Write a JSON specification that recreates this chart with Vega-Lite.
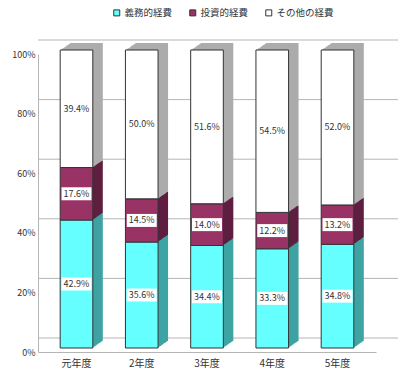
{
  "$schema": "https://vega.github.io/schema/vega-lite/v6.json",
  "autosize": "none",
  "width": 338,
  "height": 298,
  "padding": {"left": 38, "top": 54, "right": 24, "bottom": 27},
  "background": "white",
  "config": {
    "font": "Noto Sans CJK JP",
    "view": {"stroke": null}
  },
  "data": {
    "values": [
      {"year": "元年度", "seg": "義務的経費", "k": 0, "v": 0.429},
      {"year": "元年度", "seg": "投資的経費", "k": 1, "v": 0.176},
      {"year": "元年度", "seg": "その他の経費", "k": 2, "v": 0.394},
      {"year": "2年度", "seg": "義務的経費", "k": 0, "v": 0.356},
      {"year": "2年度", "seg": "投資的経費", "k": 1, "v": 0.145},
      {"year": "2年度", "seg": "その他の経費", "k": 2, "v": 0.500},
      {"year": "3年度", "seg": "義務的経費", "k": 0, "v": 0.344},
      {"year": "3年度", "seg": "投資的経費", "k": 1, "v": 0.140},
      {"year": "3年度", "seg": "その他の経費", "k": 2, "v": 0.516},
      {"year": "4年度", "seg": "義務的経費", "k": 0, "v": 0.333},
      {"year": "4年度", "seg": "投資的経費", "k": 1, "v": 0.122},
      {"year": "4年度", "seg": "その他の経費", "k": 2, "v": 0.545},
      {"year": "5年度", "seg": "義務的経費", "k": 0, "v": 0.348},
      {"year": "5年度", "seg": "投資的経費", "k": 1, "v": 0.132},
      {"year": "5年度", "seg": "その他の経費", "k": 2, "v": 0.520}
    ]
  },
  "layer": [
    {
      "data": {"values": [{"g": 0}, {"g": 0.2}, {"g": 0.4}, {"g": 0.6}, {"g": 0.8}, {"g": 1}]},
      "mark": {"type": "rule", "color": "#b5b5b5", "strokeWidth": 1, "xOffset": 22, "yOffset": -14},
      "encoding": {
        "y": {"field": "g", "type": "quantitative", "scale": {"domain": [0, 1]}, "axis": {"format": ".0%", "values": [0, 0.2, 0.4, 0.6, 0.8, 1], "grid": false, "ticks": false, "domainColor": "#b5b5b5", "labelFontSize": 9, "labelColor": "#333", "labelPadding": 3, "title": null}}
      }
    },
    {
      "transform": [
        {"stack": "v", "groupby": ["year"], "sort": [{"field": "k"}], "as": ["v0", "v1"], "offset": "normalize"},
        {"calculate": "(datum.v0 + datum.v1) / 2", "as": "mid"},
        {"calculate": "datum.seg", "as": "side"}
      ],
      "encoding": {
        "x": {"field": "year", "type": "nominal", "sort": ["元年度", "2年度", "3年度", "4年度", "5年度"], "scale": {"paddingInner": 0.5, "paddingOuter": 0.34}, "axis": {"labelAngle": 0, "ticks": false, "domainColor": "#b5b5b5", "labelFontSize": 10, "labelColor": "#333", "labelPadding": 6, "title": null}},
        "y": {"field": "v0", "type": "quantitative"},
        "y2": {"field": "v1"}
      },
      "layer": [
        {"mark": {"type": "bar", "xOffset": 10, "yOffset": -11, "y2Offset": -11}, "encoding": {"fill": {"field": "side", "type": "nominal", "scale": {"domain": ["義務的経費", "投資的経費", "その他の経費"], "range": ["#3fa3a3", "#5e1f40", "#acacac"]}, "legend": null}}},
        {"mark": {"type": "bar", "xOffset": 9, "yOffset": -10.3, "y2Offset": -10.3}, "encoding": {"fill": {"field": "side", "type": "nominal", "legend": null}}},
        {"mark": {"type": "bar", "xOffset": 8, "yOffset": -9.6, "y2Offset": -9.6}, "encoding": {"fill": {"field": "side", "type": "nominal", "legend": null}}},
        {"mark": {"type": "bar", "xOffset": 7, "yOffset": -8.9, "y2Offset": -8.9}, "encoding": {"fill": {"field": "side", "type": "nominal", "legend": null}}},
        {"mark": {"type": "bar", "xOffset": 6, "yOffset": -8.2, "y2Offset": -8.2}, "encoding": {"fill": {"field": "side", "type": "nominal", "legend": null}}},
        {"mark": {"type": "bar", "xOffset": 5, "yOffset": -7.5, "y2Offset": -7.5}, "encoding": {"fill": {"field": "side", "type": "nominal", "legend": null}}},
        {"mark": {"type": "bar", "xOffset": 4, "yOffset": -6.8, "y2Offset": -6.8}, "encoding": {"fill": {"field": "side", "type": "nominal", "legend": null}}},
        {"mark": {"type": "bar", "xOffset": 3, "yOffset": -6.1, "y2Offset": -6.1}, "encoding": {"fill": {"field": "side", "type": "nominal", "legend": null}}},
        {"mark": {"type": "bar", "xOffset": 2, "yOffset": -5.4, "y2Offset": -5.4}, "encoding": {"fill": {"field": "side", "type": "nominal", "legend": null}}},
        {"mark": {"type": "bar", "xOffset": 1, "yOffset": -4.7, "y2Offset": -4.7}, "encoding": {"fill": {"field": "side", "type": "nominal", "legend": null}}},
        {
          "mark": {"type": "bar", "yOffset": -4, "y2Offset": -4, "stroke": "#333", "strokeWidth": 1},
          "encoding": {
            "color": {"field": "seg", "type": "nominal", "scale": {"domain": ["義務的経費", "投資的経費", "その他の経費"], "range": ["#66ffff", "#993366", "#ffffff"]},
              "legend": {"orient": "none", "legendX": 74, "legendY": -46, "direction": "horizontal", "title": null, "symbolType": "square", "symbolSize": 36, "symbolStrokeColor": "#333", "symbolStrokeWidth": 1, "labelFontSize": 9.5, "labelColor": "#333", "columnPadding": 14, "labelOffset": 3}}
          }
        },
        {
          "mark": {"type": "point", "shape": "M-1,-0.433H1V0.433H-1Z", "size": 900, "filled": true, "fill": "white", "opacity": 1, "strokeWidth": 0, "yOffset": -4},
          "encoding": {"y": {"field": "mid", "type": "quantitative"}, "y2": null}
        },
        {
          "mark": {"type": "text", "fontSize": 9, "color": "#333", "yOffset": -4, "baseline": "middle"},
          "encoding": {"y": {"field": "mid", "type": "quantitative"}, "y2": null, "text": {"field": "v", "type": "quantitative", "format": ".1%"}}
        }
      ],
      "resolve": {"legend": {"color": "independent", "fill": "independent"}}
    }
  ]
}
